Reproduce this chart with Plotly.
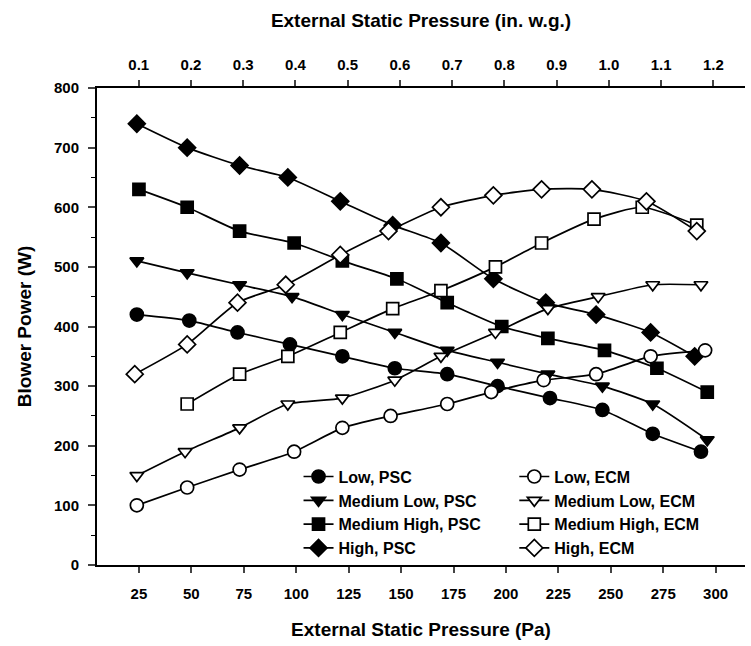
import plotly.graph_objects as go

# ---- data (External static pressure in Pa, blower power in W) ----
x_low_psc = [24, 49, 72, 97, 122, 147, 172, 196, 221, 246, 270, 293]
y_low_psc = [420, 410, 390, 370, 350, 330, 320, 300, 280, 260, 220, 190]

x_mlow_psc = [24, 48, 73, 98, 122, 147, 172, 196, 220, 246, 270, 296]
y_mlow_psc = [510, 490, 470, 450, 420, 390, 360, 340, 320, 300, 270, 210]

x_mhigh_psc = [25, 48, 73, 99, 122, 148, 172, 198, 220, 247, 272, 296]
y_mhigh_psc = [630, 600, 560, 540, 510, 480, 440, 400, 380, 360, 330, 290]

x_high_psc = [24, 48, 73, 96, 121, 146, 169, 194, 219, 243, 269, 290]
y_high_psc = [740, 700, 670, 650, 610, 570, 540, 480, 440, 420, 390, 350]

x_low_ecm = [24, 48, 73, 99, 122, 145, 172, 193, 218, 243, 269, 295]
y_low_ecm = [100, 130, 160, 190, 230, 250, 270, 290, 310, 320, 350, 360]

x_mlow_ecm = [24, 47, 73, 96, 122, 147, 169, 195, 220, 244, 270, 293]
y_mlow_ecm = [150, 190, 230, 270, 280, 310, 350, 390, 430, 450, 470, 470]

x_mhigh_ecm = [48, 73, 96, 121, 146, 169, 195, 217, 242, 265, 291]
y_mhigh_ecm = [270, 320, 350, 390, 430, 460, 500, 540, 580, 600, 570]

x_high_ecm = [23, 48, 72, 95, 121, 144, 169, 194, 217, 241, 267, 291]
y_high_ecm = [320, 370, 440, 470, 520, 560, 600, 620, 630, 630, 610, 560]

pa_ticks = [25, 50, 75, 100, 125, 150, 175, 200, 225, 250, 275, 300]
inwg_ticks = [0.1, 0.2, 0.3, 0.4, 0.5, 0.6, 0.7, 0.8, 0.9, 1.0, 1.1, 1.2]
power_ticks = [0, 100, 200, 300, 400, 500, 600, 700, 800]

PA_PER_INWG = 249.089
x_range = [5, 314]

FONT = "Liberation Sans, Arial, sans-serif"

fig = go.Figure()

series = [
    ("Low, PSC", x_low_psc, y_low_psc, "circle", 13, True, "legend"),
    ("Medium Low, PSC", x_mlow_psc, y_mlow_psc, "triangle-down", 12, True, "legend"),
    ("Medium High, PSC", x_mhigh_psc, y_mhigh_psc, "square", 12, True, "legend"),
    ("High, PSC", x_high_psc, y_high_psc, "diamond", 13, True, "legend"),
    ("Low, ECM", x_low_ecm, y_low_ecm, "circle", 13, False, "legend2"),
    ("Medium Low, ECM", x_mlow_ecm, y_mlow_ecm, "triangle-down", 12, False, "legend2"),
    ("Medium High, ECM", x_mhigh_ecm, y_mhigh_ecm, "square", 12, False, "legend2"),
    ("High, ECM", x_high_ecm, y_high_ecm, "diamond", 13, False, "legend2"),
]

for i, (name, xs, ys, sym, size, filled, leg) in enumerate(series):
    fig.add_trace(go.Scatter(
        x=xs, y=ys, name=name, mode="lines+markers",
        line=dict(color="black", width=1.7, shape="spline", smoothing=0.6),
        marker=dict(symbol=sym, size=size,
                    color="black" if filled else "white",
                    line=dict(color="black", width=1.7)),
        legend=leg, legendgroup=f"g{i}",
    ))

# invisible carrier trace for the top (in. w.g.) axis
fig.add_trace(go.Scatter(x=inwg_ticks, y=[None] * len(inwg_ticks), xaxis="x2",
                         mode="markers", showlegend=False, hoverinfo="skip"))

axis_font = dict(family=FONT, size=15, color="black", weight="bold")
title_font = dict(family=FONT, size=19, color="black", weight="bold")
legend_font = dict(family=FONT, size=16, color="black", weight="bold")

fig.update_layout(
    width=751, height=646,
    margin=dict(l=97, r=6, t=88, b=81),
    paper_bgcolor="white", plot_bgcolor="white",
    xaxis=dict(
        range=x_range, tickvals=pa_ticks, ticks="outside", ticklen=6, tickwidth=1.5,
        showline=True, linecolor="black", linewidth=2, showgrid=False, zeroline=False,
        tickfont=axis_font, ticklabelstandoff=8,
        title=dict(text="External Static Pressure (Pa)", font=title_font, standoff=22),
    ),
    xaxis2=dict(
        overlaying="x", side="top", anchor="y",
        range=[x_range[0] / PA_PER_INWG, x_range[1] / PA_PER_INWG],
        tickvals=inwg_ticks, ticktext=[f"{v:.1f}" for v in inwg_ticks],
        ticks="outside", ticklen=6, tickwidth=1.5,
        showline=True, linecolor="black", linewidth=2, showgrid=False, zeroline=False,
        tickfont=axis_font, ticklabelstandoff=4,
        title=dict(text="External Static Pressure (in. w.g.)", font=title_font, standoff=23),
    ),
    yaxis=dict(
        range=[0, 800], tickvals=power_ticks, ticks="outside", ticklen=7, tickwidth=1.5,
        minor=dict(ticks="outside", ticklen=4, dtick=50, tickwidth=1, tickcolor="black"),
        showline=True, linecolor="black", linewidth=2, showgrid=False, zeroline=False,
        tickfont=axis_font, ticklabelstandoff=6,
        title=dict(text="Blower Power (W)", font=title_font, standoff=17),
    ),
    legend=dict(x=0.311, y=0.221, xanchor="left", yanchor="top", font=legend_font,
                bgcolor="rgba(0,0,0,0)", tracegroupgap=0, itemwidth=30),
    legend2=dict(x=0.644, y=0.221, xanchor="left", yanchor="top", font=legend_font,
                 bgcolor="rgba(0,0,0,0)", tracegroupgap=0, itemwidth=30),
    showlegend=True,
)

fig.write_html("out.html")
